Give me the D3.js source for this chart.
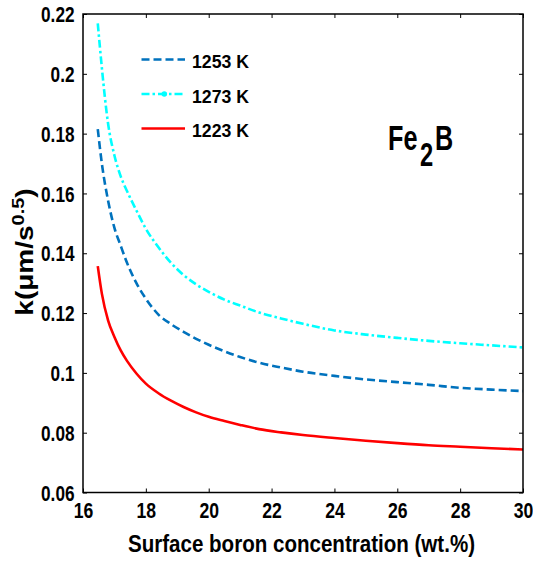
<!DOCTYPE html>
<html><head><meta charset="utf-8">
<script src="https://cdn.jsdelivr.net/npm/d3@7"></script>
<style>body{margin:0;background:#fff}svg text{font-family:"Liberation Sans",Arial,sans-serif;font-weight:bold;fill:#000}</style>
</head><body><svg id="c" width="533" height="561"></svg>
<script>
const conc = [16.47,16.6,16.8,17.0,17.2,17.4,17.7,18.0,18.4,18.8,19.2,19.6,20.0,20.5,21,21.6,22.3,23,24,25,26,27,28,29,30];
const k1273 = [0.2169,0.2020,0.1832,0.1727,0.1657,0.1608,0.1543,0.1482,0.1420,0.1368,0.1327,0.1296,0.1271,0.1245,0.1225,0.1202,0.1182,0.1164,0.1142,0.1128,0.1117,0.1107,0.1099,0.1092,0.1085];
const k1253 = [0.1815,0.1700,0.1575,0.1485,0.1425,0.1368,0.1300,0.1248,0.1195,0.1163,0.1137,0.1114,0.1094,0.1072,0.1053,0.1034,0.1018,0.1004,0.0990,0.0978,0.0969,0.0960,0.0950,0.0944,0.0939];
const k1223 = [0.1357,0.1265,0.1175,0.1120,0.1075,0.1040,0.0998,0.0964,0.0932,0.0907,0.0886,0.0868,0.0853,0.0839,0.0826,0.0812,0.0801,0.0792,0.0782,0.0773,0.0765,0.0758,0.0753,0.0748,0.0744];
const xTicks = [16,18,20,22,24,26,28,30];
const yTicks = [0.06,0.08,0.1,0.12,0.14,0.16,0.18,0.2,0.22];
const seriesNames = ["1253 K","1273 K","1223 K"];
const seriesColors = ["#0072BD","#00FFFF","#FF0000"];
const seriesDash = ["8,4","8,3,2.5,3",null];

const svg = d3.select("#c");
const L=83,R=523,T=14,B=492.5;
const x = d3.scaleLinear().domain([16,30]).range([L,R]);
const y = d3.scaleLinear().domain([0.06,0.22]).range([B,T]);
const SX = 0.8;

const ax = (g,axis)=>g.call(axis).call(s=>{s.select(".domain").remove();s.selectAll("line").attr("stroke","#000").attr("stroke-width",1);});
ax(svg.append("g").attr("transform",`translate(0,${B})`), d3.axisBottom(x).tickValues(xTicks).tickSizeInner(-4).tickSizeOuter(0).tickPadding(0).tickFormat(d3.format("d")))
  .selectAll("text").attr("font-size",22).attr("y",25.5).attr("dy",null).attr("transform",`scale(${SX},1)`);
ax(svg.append("g").attr("transform",`translate(0,${T})`), d3.axisTop(x).tickValues(xTicks).tickSizeInner(-4).tickSizeOuter(0).tickFormat(""));
ax(svg.append("g").attr("transform",`translate(${L},0)`), d3.axisLeft(y).tickValues(yTicks).tickSizeInner(-4).tickSizeOuter(0).tickPadding(0).tickFormat(d=>String(+d.toFixed(2))))
  .selectAll("text").attr("font-size",21.5).attr("x",-8.5/SX).attr("dy","0.36em").attr("transform",`scale(${SX},1)`);
ax(svg.append("g").attr("transform",`translate(${R},0)`), d3.axisRight(y).tickValues(yTicks).tickSizeInner(-4).tickSizeOuter(0).tickFormat(""));
svg.selectAll(".tick text").attr("font-family","'Liberation Sans',Arial,sans-serif").attr("font-weight","bold").attr("fill","#000");

// series
const line = d3.line().x(d=>x(d[0])).y(d=>y(d[1])).curve(d3.curveMonotoneX);
const data = [k1253,k1273,k1223];
data.forEach((vals,i)=>{
  svg.append("path").datum(conc.map((c,j)=>[c,vals[j]]))
    .attr("d",line).attr("fill","none").attr("stroke",seriesColors[i]).attr("stroke-width",2.6)
    .attr("stroke-dasharray",seriesDash[i]);
});

// frame
svg.append("rect").attr("x",L).attr("y",T).attr("width",R-L).attr("height",B-T).attr("fill","none").attr("stroke","#000").attr("stroke-width",1.5);

// legend
seriesNames.forEach((n,i)=>{
  const yy = 59.5 + i*34.5;
  svg.append("line").attr("x1",141.5).attr("x2",185).attr("y1",yy).attr("y2",yy)
    .attr("stroke",seriesColors[i]).attr("stroke-width",2.6).attr("stroke-dasharray",seriesDash[i]);
  if(i===1) svg.append("circle").attr("cx",164.3).attr("cy",yy).attr("r",2.8).attr("fill",seriesColors[i]);
  svg.append("text").attr("x",192).attr("y",yy+8.5).attr("font-size",18.5)
    .attr("textLength",57).attr("lengthAdjust","spacingAndGlyphs").text(n);
});

// Fe2B label (one text element, horizontally condensed)
const FS = 0.72;
const fe = svg.append("text").attr("transform",`scale(${FS},1)`).attr("y",150).attr("font-size",35);
fe.append("tspan").attr("x",388/FS).text("Fe");
fe.append("tspan").attr("x",420/FS).attr("dy",16.5).attr("font-size",33).text("2");
fe.append("tspan").attr("x",435/FS).attr("dy",-16.5).text("B");

// axis labels
svg.append("text").attr("x",128).attr("y",551.5).attr("font-size",24).attr("fill","#333")
  .attr("textLength",347).attr("lengthAdjust","spacingAndGlyphs").text("Surface boron concentration (wt.%)");
const yl = svg.append("text").attr("transform",`translate(33,252) scale(0.83,1) rotate(-90)`).attr("text-anchor","middle").attr("font-size",28).attr("fill","#222");
yl.append("tspan").text("k(μm/s");
yl.append("tspan").attr("font-size",20).attr("dy",-11).text("0.5");
yl.append("tspan").attr("dy",11).text(")");
</script></body></html>
